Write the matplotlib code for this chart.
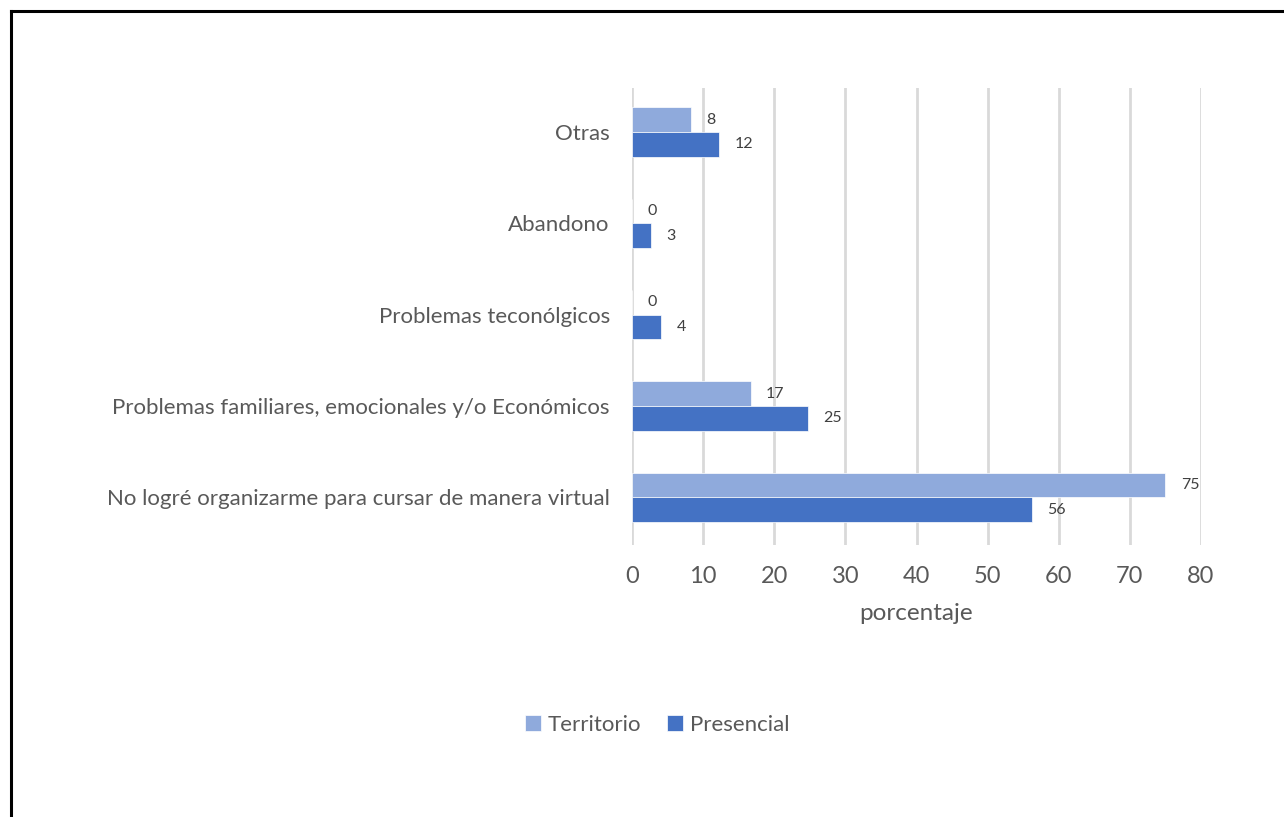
import matplotlib
matplotlib.use("Agg")
import matplotlib.pyplot as plt
import numpy as np

categories = ["No logré organizarme para cursar de manera virtual",
              "Problemas familiares, emocionales y/o Económicos",
              "Problemas teconólgicos",
              "Abandono",
              "Otras"]
territorio = [75.0, 16.7, 0.0, 0.0, 8.3]
presencial = [56.2, 24.7, 4.1, 2.7, 12.3]
xticks = [0, 10, 20, 30, 40, 50, 60, 70, 80]

c_terr = "#8FAADC"
c_pres = "#4472C4"
txt = "#595959"

plt.rcParams['font.family'] = ['Lato', 'DejaVu Sans']

fig = plt.figure(figsize=(12.84, 8.17), dpi=100)
ax = fig.add_axes([632/1284, 1-545/817, (1201-632)/1284, (545-88)/817])

y = np.arange(len(categories))
h = 0.27
b1 = ax.barh(y + h/2, territorio, height=h, color=c_terr, edgecolor="white", linewidth=0.5, label="Territorio", zorder=3)
b2 = ax.barh(y - h/2, presencial, height=h, color=c_pres, edgecolor="white", linewidth=0.5, label="Presencial", zorder=3)

for bars, vals in ((b1, territorio), (b2, presencial)):
    for rect, v in zip(bars, vals):
        ax.annotate(f"{v:.0f}", xy=(rect.get_width(), rect.get_y() + rect.get_height()/2),
                    xytext=(11, 0), textcoords="offset points", ha="left", va="center",
                    fontsize=11.5, color="#404040")

ax.set_xlim(0, 80)
ax.set_ylim(-0.52, 4.48)
ax.set_xticks(xticks)
ax.set_xticklabels([str(t) for t in xticks])
ax.set_yticks(y)
ax.set_yticklabels(categories)
ax.tick_params(axis="both", length=0, colors=txt)
ax.tick_params(axis="x", labelsize=17, pad=15)
ax.tick_params(axis="y", labelsize=16, pad=16)
ax.grid(axis="x", color="#D9D9D9", linewidth=2, zorder=0)
for s in ax.spines.values():
    s.set_visible(False)
ax.set_xlabel("porcentaje", fontsize=17.5, color=txt, labelpad=12)

leg = fig.legend(handles=[b1, b2], labels=["Territorio", "Presencial"], loc="center",
                 bbox_to_anchor=(657/1284, 1-725/817), ncol=2, frameon=False,
                 fontsize=16, handlelength=0.7, handleheight=0.7, handletextpad=0.3,
                 columnspacing=1.2)
for t in leg.get_texts():
    t.set_color(txt)

# frame lines (left and top only)
fig.add_artist(plt.Line2D([11/1284, 11/1284], [0, 1-11/817], color="black", linewidth=2.2, transform=fig.transFigure))
fig.add_artist(plt.Line2D([11/1284, 1], [1-11/817, 1-11/817], color="black", linewidth=2.2, transform=fig.transFigure))

fig.savefig("out.png", dpi=100)
